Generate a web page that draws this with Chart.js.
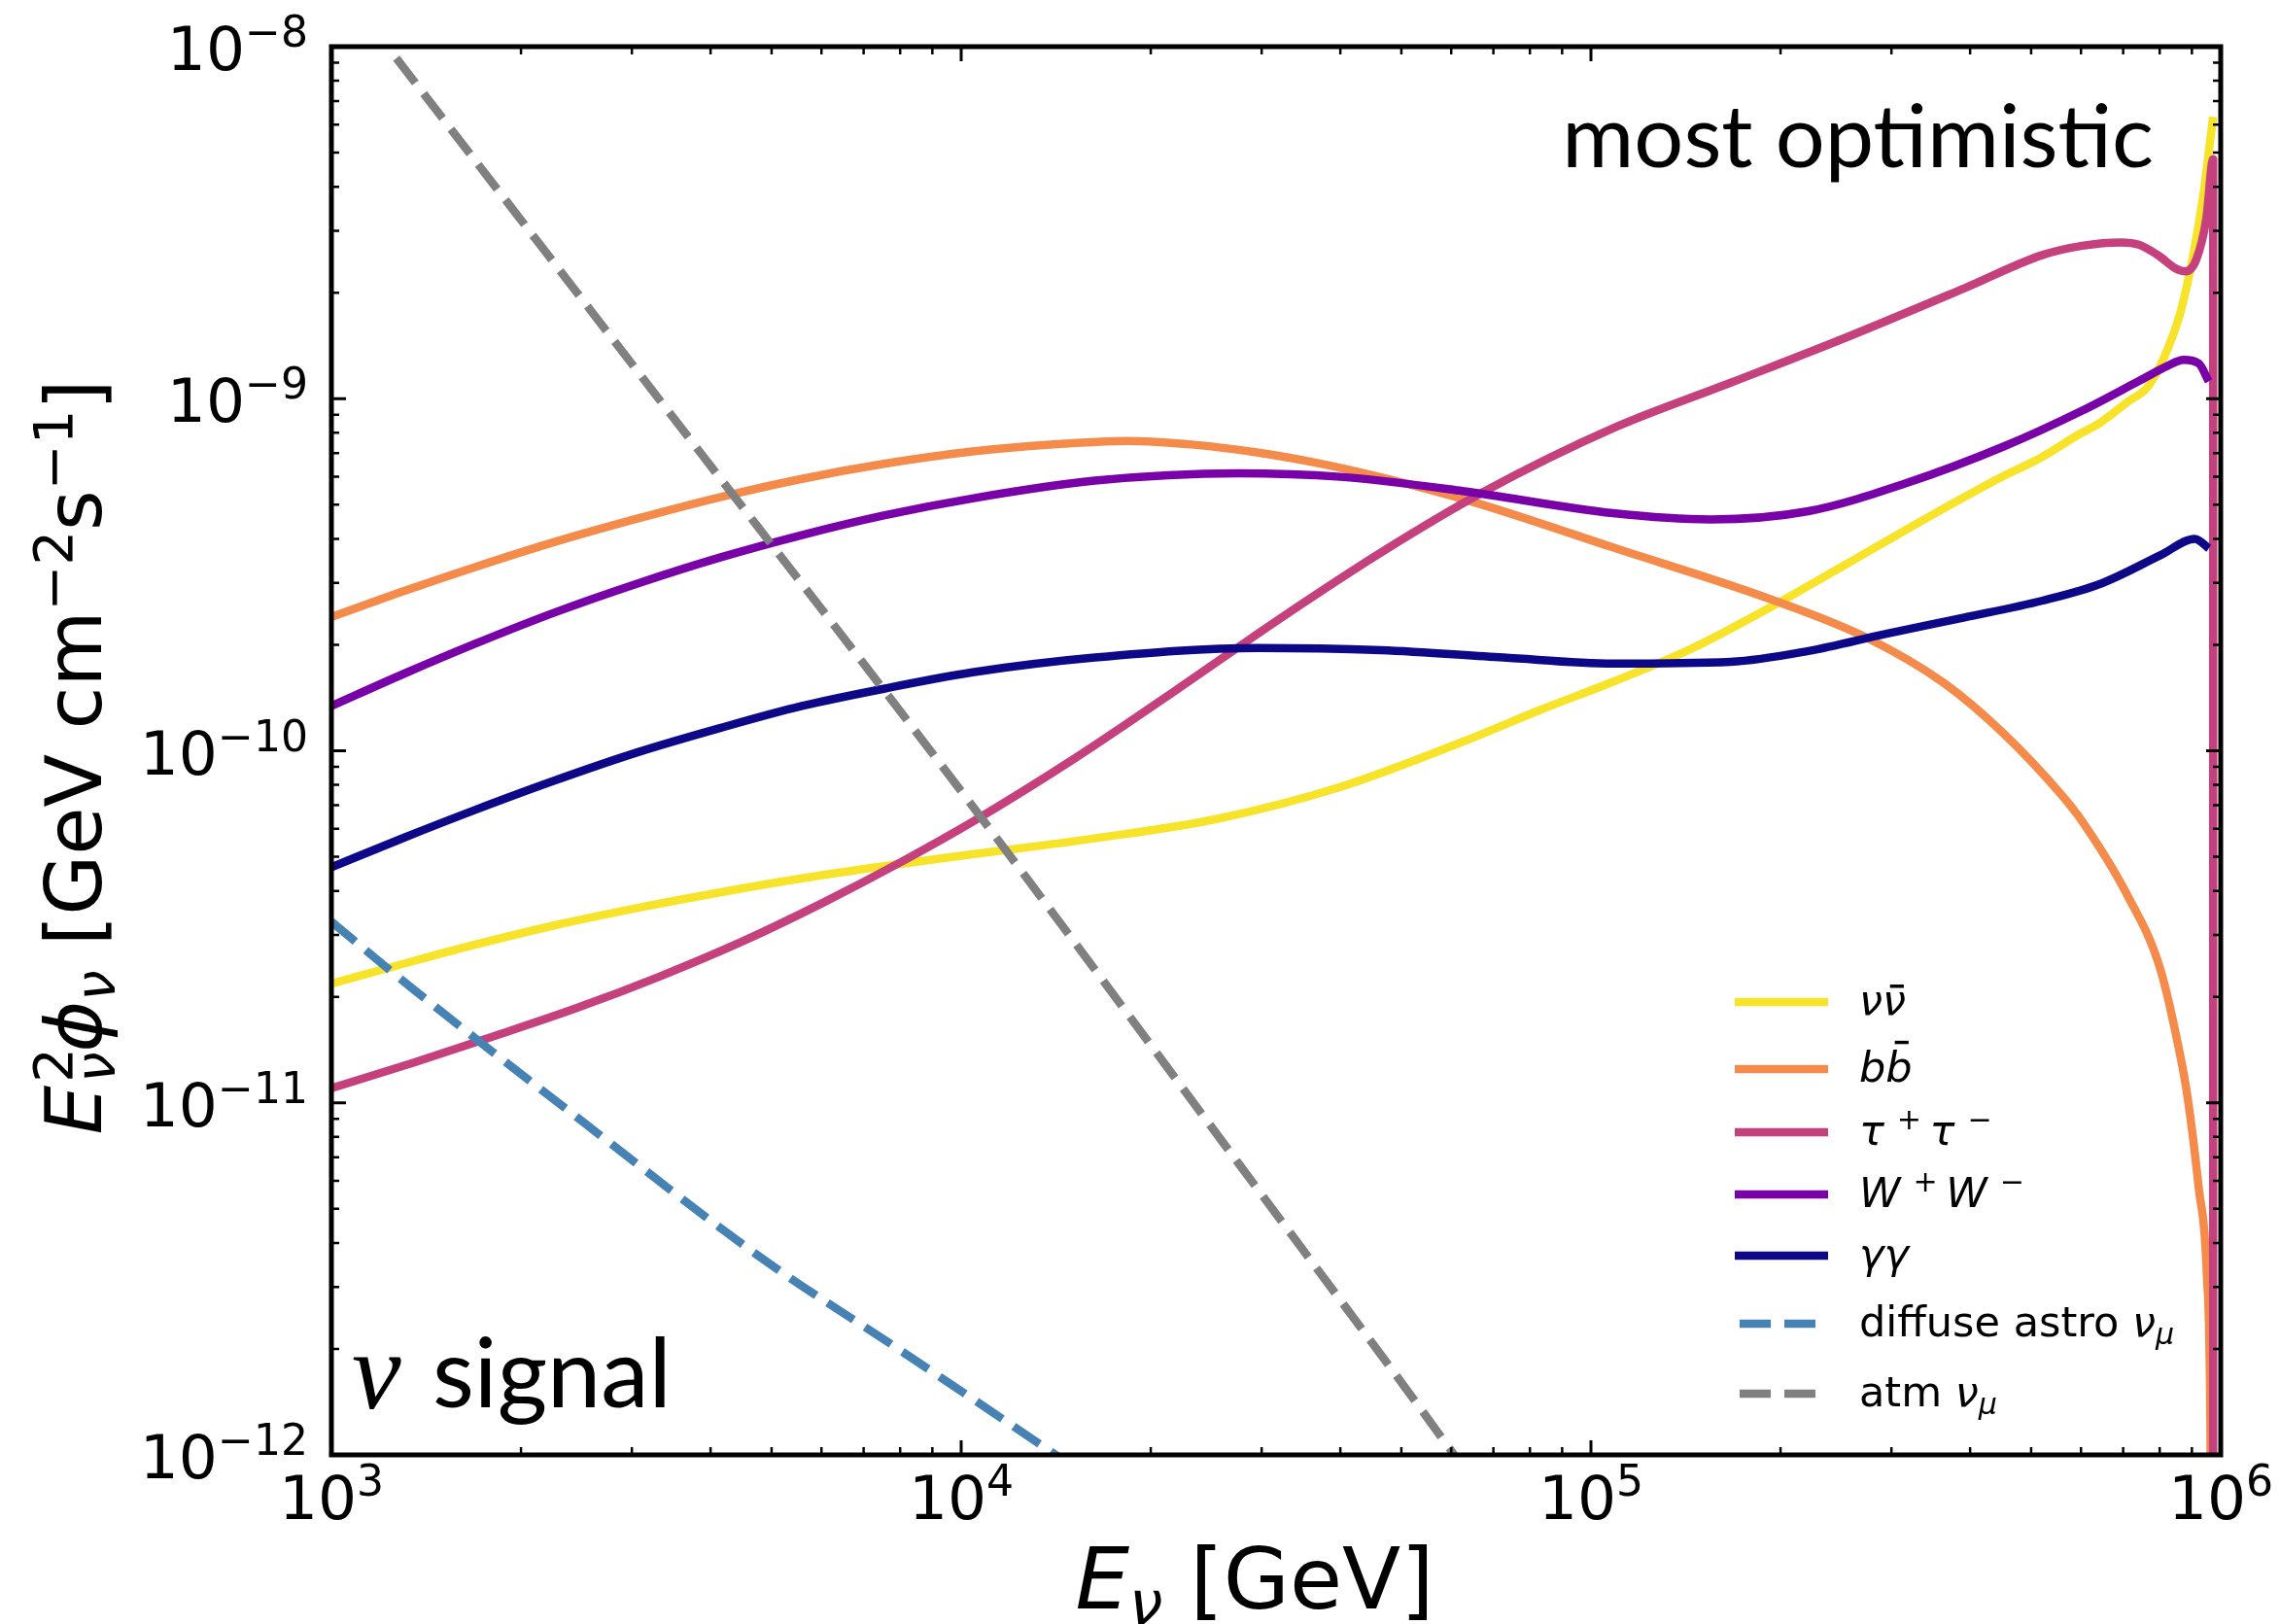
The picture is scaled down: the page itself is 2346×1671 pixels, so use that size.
<!DOCTYPE html>
<html lang="en">
<head>
<meta charset="UTF-8">
<title>Neutrino signal - most optimistic</title>
<script src="https://cdn.jsdelivr.net/npm/chart.js@4"></script>
<style>
  html, body { margin: 0; padding: 0; background: #fff; }
  canvas { display: block; }
</style>
</head>
<body>
<canvas id="fluxChart" width="2346" height="1671"></canvas>
<script>
// E^2 phi in GeV cm^-2 s^-1 against neutrino energy in GeV
const nunuEnergy = [1000, 1309, 1687, 2275, 3069, 4140, 5585, 7534, 10400, 16300, 25530, 39990, 62520, 84330, 108400, 144500, 192300, 255900, 340400, 451900, 518800, 597000, 641200, 712900, 765600, 812800, 863000, 903600, 937600, 972700];
const nunuFlux = [2.18e-11, 2.49e-11, 2.81e-11, 3.20e-11, 3.58e-11, 3.96e-11, 4.34e-11, 4.70e-11, 5.08e-11, 5.64e-11, 6.41e-11, 7.89e-11, 1.06e-10, 1.32e-10, 1.57e-10, 1.95e-10, 2.55e-10, 3.41e-10, 4.57e-10, 6.03e-10, 6.81e-10, 7.94e-10, 8.51e-10, 9.82e-10, 1.08e-9, 1.31e-9, 1.76e-9, 2.54e-9, 3.75e-9, 6.32e-9];

const bbEnergy = [1000, 1309, 1687, 2275, 3069, 4140, 5585, 7534, 10420, 13800, 18370, 23440, 29650, 37070, 46450, 65460, 108400, 192300, 274800, 364800, 451900, 559800, 602600, 707900, 801700, 859100, 885100, 922600, 950600, 963800, 968300];
const bbFlux = [2.40e-10, 2.85e-10, 3.32e-10, 3.93e-10, 4.57e-10, 5.25e-10, 5.92e-10, 6.53e-10, 7.08e-10, 7.41e-10, 7.59e-10, 7.40e-10, 7.03e-10, 6.55e-10, 5.98e-10, 5.07e-10, 3.78e-10, 2.70e-10, 2.09e-10, 1.55e-10, 1.12e-10, 7.46e-11, 6.30e-11, 3.94e-11, 2.40e-11, 1.41e-11, 1.05e-11, 5.75e-12, 3.24e-12, 1.0e-12, 1.0e-13];

const tautauEnergy = [1000, 1349, 1820, 2455, 3311, 4467, 6012, 8110, 10420, 15100, 21980, 31920, 46450, 67450, 108400, 166700, 255900, 391700, 521200, 602600, 695000, 741300, 794300, 853100, 879000, 914100, 948500, 972700, 972700];
const tautauFlux = [1.10e-11, 1.30e-11, 1.55e-11, 1.86e-11, 2.28e-11, 2.86e-11, 3.69e-11, 4.88e-11, 6.28e-11, 9.48e-11, 1.49e-10, 2.36e-10, 3.66e-10, 5.43e-10, 8.24e-10, 1.11e-9, 1.50e-9, 2.06e-9, 2.56e-9, 2.72e-9, 2.78e-9, 2.74e-9, 2.56e-9, 2.33e-9, 2.30e-9, 2.48e-9, 3.24e-9, 4.79e-9, 1e-13];

const wwEnergy = [1000, 1309, 1687, 2275, 3069, 4140, 5585, 7534, 10420, 16300, 27480, 39990, 62520, 108400, 154900, 221300, 316200, 451900, 602600, 746400, 824100, 873000, 922600, 957200];
const wwFlux = [1.34e-10, 1.66e-10, 2.01e-10, 2.48e-10, 2.99e-10, 3.54e-10, 4.10e-10, 4.66e-10, 5.21e-10, 5.85e-10, 6.14e-10, 6.00e-10, 5.47e-10, 4.73e-10, 4.54e-10, 4.79e-10, 5.75e-10, 7.31e-10, 9.25e-10, 1.13e-9, 1.24e-9, 1.29e-9, 1.26e-9, 1.12e-9];

const gamgamEnergy = [1000, 1309, 1687, 2275, 3069, 4140, 5585, 7534, 10420, 16300, 29650, 46450, 72610, 108400, 166700, 221300, 294400, 391700, 521200, 647100, 801700, 909900, 957200];
const gamgamFlux = [4.67e-11, 5.68e-11, 6.78e-11, 8.26e-11, 9.91e-11, 1.16e-10, 1.34e-10, 1.50e-10, 1.67e-10, 1.84e-10, 1.96e-10, 1.93e-10, 1.84e-10, 1.77e-10, 1.79e-10, 1.92e-10, 2.15e-10, 2.39e-10, 2.67e-10, 2.99e-10, 3.59e-10, 4.00e-10, 3.76e-10];

const astroEnergy = [1000, 1324, 2512, 4875, 7943, 13680, 15850];
const astroFlux = [3.27e-11, 2.16e-11, 8.81e-12, 3.57e-12, 2.0e-12, 1.04e-12, 8.7e-13];

const atmEnergy = [1268, 3214, 10400, 27480, 59700, 70790];
const atmFlux = [9.27e-9, 1.07e-9, 7.0e-11, 6.78e-12, 1.04e-12, 6.76e-13];

// axis ticks
const xMajor = [1e3, 1e4, 1e5, 1e6];
const xMajorExp = ['3', '4', '5', '6'];
const yMajor = [1e-12, 1e-11, 1e-10, 1e-9, 1e-8];
const yMajorExp = ['\u221212', '\u221211', '\u221210', '\u22129', '\u22128'];
const mantissas = [2, 3, 4, 5, 6, 7, 8, 9];

const FONT = '"DejaVu Sans"';
const lineW = 8.5;
const dash = [32, 14];

// legend entries as rich text runs
const series = [
  { energy: nunuEnergy, flux: nunuFlux, color: '#f7e42a', dashed: false, label: 'νν̄',
    runs: [{ t: 'ν', it: true }, { t: 'ν', it: true, bar: 0.72 }] },
  { energy: bbEnergy, flux: bbFlux, color: '#f48b4b', dashed: false, label: 'bb̄',
    runs: [{ t: 'b', it: true }, { t: 'b', it: true, bar: 0.98 }] },
  { energy: tautauEnergy, flux: tautauFlux, color: '#c5417e', dashed: false, label: 'τ+τ−',
    runs: [{ t: 'τ', it: true }, { t: '+', sup: true, pre: 0.3, post: 0.2 }, { t: 'τ', it: true }, { t: '\u2212', sup: true, pre: 0.3 }] },
  { energy: wwEnergy, flux: wwFlux, color: '#7801a8', dashed: false, label: 'W+W−',
    runs: [{ t: 'W', it: true }, { t: '+', sup: true, pre: 0.3, post: 0.2 }, { t: 'W', it: true }, { t: '\u2212', sup: true, pre: 0.3 }] },
  { energy: gamgamEnergy, flux: gamgamFlux, color: '#0d0887', dashed: false, label: 'γγ',
    runs: [{ t: 'γγ', it: true }] },
  { energy: astroEnergy, flux: astroFlux, color: '#4682b4', dashed: true, label: 'diffuse astro νμ',
    runs: [{ t: 'diffuse astro ' }, { t: 'ν', it: true }, { t: 'μ', it: true, sub: true }] },
  { energy: atmEnergy, flux: atmFlux, color: '#808080', dashed: true, label: 'atm νμ',
    runs: [{ t: 'atm ' }, { t: 'ν', it: true }, { t: 'μ', it: true, sub: true }] }
];

function setFont(ctx, r, size) {
  const s = (r.sup || r.sub) ? size * 0.7 : size;
  ctx.font = (r.it ? 'italic ' : '') + s + 'px ' + FONT;
}

function runsWidth(ctx, runs, size) {
  let w = 0;
  runs.forEach(r => {
    setFont(ctx, r, size);
    w += ((r.pre || 0) + (r.post || 0)) * size;
    if (!r.keep) w += ctx.measureText(r.t).width;
  });
  return w;
}

function drawRuns(ctx, runs, x, y, size) {
  let cx = x;
  runs.forEach(r => {
    setFont(ctx, r, size);
    cx += (r.pre || 0) * size;
    const w = ctx.measureText(r.t).width;
    const dy = r.sup ? -0.38 * size : (r.sub ? 0.18 * size : 0);
    ctx.fillText(r.t, cx, y + dy);
    if (r.bar) {
      ctx.fillRect(cx + w / 2 - 0.1 * size, y - r.bar * size, 0.33 * size, 0.08 * size);
    }
    if (!r.keep) cx += w;
    cx += (r.post || 0) * size;
  });
  return cx - x;
}

const decor = {
  id: 'decor',
  afterDraw(chart) {
    const { ctx, chartArea: a, scales: { x, y } } = chart;
    ctx.save();
    ctx.fillStyle = '#000';
    ctx.strokeStyle = '#000';
    ctx.lineCap = 'butt';

    // inward ticks on all four sides
    const xt = (v, len, w) => {
      const p = x.getPixelForValue(v);
      ctx.lineWidth = w;
      ctx.beginPath();
      ctx.moveTo(p, a.bottom); ctx.lineTo(p, a.bottom - len);
      ctx.moveTo(p, a.top); ctx.lineTo(p, a.top + len);
      ctx.stroke();
    };
    const yt = (v, len, w) => {
      const p = y.getPixelForValue(v);
      ctx.lineWidth = w;
      ctx.beginPath();
      ctx.moveTo(a.left, p); ctx.lineTo(a.left + len, p);
      ctx.moveTo(a.right, p); ctx.lineTo(a.right - len, p);
      ctx.stroke();
    };
    xMajor.forEach((d, i) => {
      xt(d, 15, 3);
      if (i < xMajor.length - 1) mantissas.forEach(m => xt(m * d, 8, 2.5));
    });
    yMajor.forEach((d, i) => {
      yt(d, 15, 3);
      if (i < yMajor.length - 1) mantissas.forEach(m => yt(m * d, 8, 2.5));
    });

    ctx.lineWidth = 5;
    ctx.strokeRect(a.left, a.top, a.right - a.left, a.bottom - a.top);

    // tick labels
    const tickSize = 63;
    ctx.textBaseline = 'alphabetic';
    ctx.textAlign = 'left';
    xMajor.forEach((v, i) => {
      const runs = [{ t: '10' }, { t: xMajorExp[i], sup: true }];
      const w = runsWidth(ctx, runs, tickSize);
      drawRuns(ctx, runs, x.getPixelForValue(v) - w / 2, a.bottom + 66, tickSize);
    });
    yMajor.forEach((v, i) => {
      const runs = [{ t: '10' }, { t: yMajorExp[i], sup: true }];
      const w = runsWidth(ctx, runs, tickSize);
      drawRuns(ctx, runs, a.left - 24 - w, y.getPixelForValue(v) + 24, tickSize);
    });

    // axis titles
    const xTitle = [{ t: 'E', it: true }, { t: 'ν', it: true, sub: true }, { t: ' [GeV]' }];
    const xw = runsWidth(ctx, xTitle, 88);
    drawRuns(ctx, xTitle, 1291 - xw / 2, 1655, 88);

    const yTitle = [
      { t: 'E', it: true }, { t: '2', sup: true, keep: true, pre: 0.04 }, { t: 'ν', it: true, sub: true },
      { t: 'ϕ', it: true }, { t: 'ν', it: true, sub: true },
      { t: ' [GeV cm' }, { t: '\u22122', sup: true }, { t: 's' }, { t: '\u22121', sup: true }, { t: ']' }
    ];
    const yw = runsWidth(ctx, yTitle, 80);
    ctx.save();
    ctx.translate(104, 779);
    ctx.rotate(-Math.PI / 2);
    drawRuns(ctx, yTitle, -yw / 2, 0, 80);
    ctx.restore();

    // panel annotations
    ctx.font = '90px Lato';
    ctx.textAlign = 'right';
    ctx.fillText('most optimistic', 2216, 172);
    ctx.textAlign = 'left';
    ctx.font = 'italic 114px "Liberation Serif"';
    ctx.fillText('ν', 362, 1449);
    ctx.font = '99px Lato';
    ctx.fillText('signal', 445, 1448);

    // legend
    const rowY = [1031, 1100, 1165, 1229, 1292, 1362, 1434];
    const legendSize = 43;
    series.forEach((s, i) => {
      const ly = rowY[i];
      ctx.strokeStyle = s.color;
      ctx.lineWidth = lineW;
      ctx.beginPath();
      if (s.dashed) {
        ctx.setLineDash(dash);
        ctx.moveTo(1790, ly); ctx.lineTo(1868, ly);
      } else {
        ctx.setLineDash([]);
        ctx.moveTo(1785, ly); ctx.lineTo(1881, ly);
      }
      ctx.stroke();
      ctx.setLineDash([]);
      ctx.fillStyle = '#000';
      drawRuns(ctx, s.runs, 1913, ly + 13, legendSize);
    });
    ctx.restore();
  }
};

const datasets = series.map((s, i) => ({
  label: s.label,
  data: s.energy.map((e, k) => ({ x: e, y: s.flux[k] })),
  borderColor: s.color,
  backgroundColor: s.color,
  borderWidth: lineW,
  borderDash: s.dashed ? dash : [],
  borderJoinStyle: s.dashed ? 'miter' : 'round',
  borderCapStyle: 'butt',
  pointRadius: 0,
  cubicInterpolationMode: 'monotone',
  fill: false,
  clip: 0,
  order: series.length - i
}));

new Chart(document.getElementById('fluxChart').getContext('2d'), {
  type: 'line',
  data: { datasets: datasets },
  options: {
    responsive: false,
    animation: false,
    devicePixelRatio: 1,
    layout: { padding: { left: 341, top: 48, right: 61, bottom: 174 } },
    scales: {
      x: { type: 'logarithmic', min: 1e3, max: 1e6, display: false },
      y: { type: 'logarithmic', min: 1e-12, max: 1e-8, display: false }
    },
    plugins: {
      legend: { display: false },
      tooltip: { enabled: false }
    }
  },
  plugins: [decor]
});
</script>
</body>
</html>
